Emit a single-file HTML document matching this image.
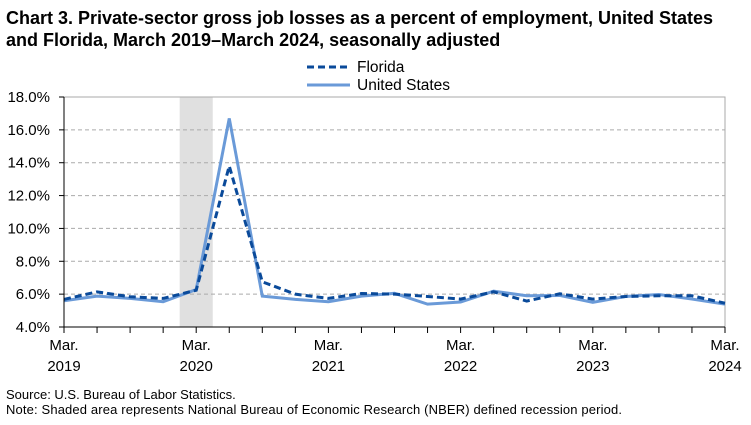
<!DOCTYPE html>
<html><head><meta charset="utf-8"><style>
body{margin:0;background:#fff;font-family:"Liberation Sans",Arial,sans-serif;}
svg text{font-family:"Liberation Sans",Arial,sans-serif;}
</style></head><body>
<svg width="751" height="420" xmlns="http://www.w3.org/2000/svg">
<text x="6" y="24" font-size="18" font-weight="bold" textLength="707">Chart 3. Private-sector gross job losses as a percent of employment, United States</text>
<text x="6" y="46" font-size="18" font-weight="bold">and Florida, March 2019–March 2024, seasonally adjusted</text>
<g>
<line x1="307" y1="67" x2="350" y2="67" stroke="#0a4a9a" stroke-width="3" stroke-dasharray="7,4"/>
<text x="357" y="72" font-size="15.5">Florida</text>
<line x1="307" y1="85" x2="350" y2="85" stroke="#6a9ad8" stroke-width="3"/>
<text x="357" y="90" font-size="15.5">United States</text>
</g>
<g id="plot"></g>
<text x="6" y="399" font-size="13">Source: U.S. Bureau of Labor Statistics.</text>
<text x="6" y="414" font-size="13" textLength="616">Note: Shaded area represents National Bureau of Economic Research (NBER) defined  recession period.</text>
</svg>
<script>
const quarters = 21;
const usValues = [5.6,5.88,5.74,5.54,6.28,16.7,5.88,5.68,5.54,5.88,6.05,5.39,5.52,6.18,5.9,5.92,5.5,5.86,5.98,5.7,5.39];
const flValues = [5.68,6.14,5.84,5.74,6.24,13.8,6.75,6.0,5.74,6.04,6.0,5.86,5.7,6.14,5.58,6.02,5.7,5.86,5.9,5.9,5.45];
const yTicks = [4,6,8,10,12,14,16,18];
const xLabels = [[0,"Mar.","2019"],[4,"Mar.","2020"],[8,"Mar.","2021"],[12,"Mar.","2022"],[16,"Mar.","2023"],[20,"Mar.","2024"]];
const recession = [3.5,4.5];

const NS="http://www.w3.org/2000/svg";
const g=document.getElementById('plot');
const X0=64,X1=725,Y0=327,Y1=97;
const xs=i=>X0+(X1-X0)*i/(quarters-1);
const ys=v=>Y0-(v-4)/(18-4)*(Y0-Y1);
function mk(t,a){const e=document.createElementNS(NS,t);for(const k in a)e.setAttribute(k,a[k]);g.appendChild(e);return e;}
let r=mk('rect',{x:xs(recession[0]),y:Y1,width:xs(recession[1])-xs(recession[0]),height:Y0-Y1,fill:'#e0e0e0'});


yTicks.forEach(v=>{
 if(v>4&&v<18){let l=mk('line',{x1:X0,x2:X1,y1:ys(v),y2:ys(v),stroke:'#aaa','stroke-dasharray':'4,3'});
 
 }
 let tk=mk('line',{x1:X0-5,x2:X0,y1:ys(v),y2:ys(v),stroke:'#000'});
 
 
 let t=mk('text',{x:50,y:ys(v)+5,'font-size':15,'text-anchor':'end'});t.textContent=v.toFixed(1)+'%';
 
 
});
let bt=mk('polyline',{points:`${X0},${Y1} ${X1},${Y1} ${X1},${Y0}`,fill:'none',stroke:'#aaa'});


for(let i=0;i<quarters;i++){let tk=mk('line',{x1:xs(i),x2:xs(i),y1:Y0,y2:Y0+6,stroke:'#000'});
 
 }
xLabels.forEach(([i,a,b])=>{
 let t=mk('text',{x:xs(i),y:350,'font-size':15,'text-anchor':'middle'});t.textContent=a;
 
 
 let t2=mk('text',{x:xs(i),y:371,'font-size':15,'text-anchor':'middle'});t2.textContent=b;
 
 
});
let us=mk('polyline',{points:usValues.map((v,i)=>xs(i)+','+ys(v)).join(' '),fill:'none',stroke:'#6a9ad8','stroke-width':3,'stroke-linejoin':'miter'});


let fl=mk('polyline',{points:flValues.map((v,i)=>xs(i)+','+ys(v)).join(' '),fill:'none',stroke:'#0a4a9a','stroke-width':3,'stroke-dasharray':'7,4'});


let ax=mk('polyline',{points:`${X0},${Y1} ${X0},${Y0} ${X1},${Y0}`,fill:'none',stroke:'#000'});


</script>
</body></html>
